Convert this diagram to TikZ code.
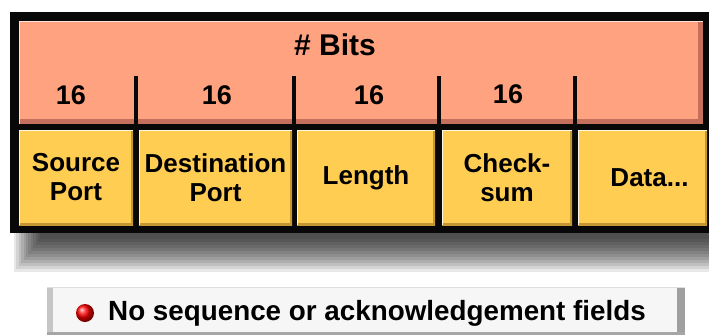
\documentclass[tikz,border=0pt]{standalone}
\usepackage{fontspec}
\setmainfont{Liberation Sans}
\usetikzlibrary{shadings}
\definecolor{hdrfill}{RGB}{255,162,128}
\definecolor{hdrshade}{RGB}{196,112,92}
\definecolor{fieldfill}{RGB}{255,205,82}
\definecolor{fieldshade}{RGB}{196,150,52}
\definecolor{framecol}{RGB}{8,8,8}
\definecolor{notefill}{RGB}{246,246,246}
\tikzset{
  x=1pt, y=-1pt,
  lbl/.style={font=\bfseries\fontsize{26}{29}\selectfont, text=black, align=center, inner sep=0pt},
  numlbl/.style={lbl, font=\bfseries\fontsize{27}{30}\selectfont},
  titlelbl/.style={lbl, font=\bfseries\fontsize{30}{33}\selectfont},
  fieldbox/.style={fill=fieldfill, minimum height=95pt, inner sep=0pt, outer sep=0pt,
    lbl, anchor=center,
    path picture={
      \draw[fieldshade, line width=4pt]
        (path picture bounding box.south west) -- (path picture bounding box.south east)
        -- (path picture bounding box.north east);
      \draw[white!85!fieldfill, line width=2pt]
        (path picture bounding box.south west) -- (path picture bounding box.north west)
        -- (path picture bounding box.north east);
    }},
  divider/.style={framecol, line width=4.5pt},
}
\begin{document}
\begin{tikzpicture}
\useasboundingbox (0,0) rectangle (709,335);
\fill[white] (0,0) rectangle (709,335);

% soft drop shadow under the frame
\foreach \i in {0,...,11}
  \fill[black, opacity=0.09] (14+\i*2.4,233) rectangle (709,272-\i*3);

% black frame
\fill[framecol] (10,12) rectangle (712,233);

% header band with the bit counts
\node[fill=hdrfill, minimum width=684pt, minimum height=104pt, inner sep=0pt, outer sep=0pt,
  path picture={
    \fill[hdrshade] ([yshift=6pt]path picture bounding box.south west) rectangle (path picture bounding box.south east);
    \fill[hdrshade] ([xshift=-5pt]path picture bounding box.north east) rectangle (path picture bounding box.south east);
    \draw[white!70!hdrfill, line width=2pt] (path picture bounding box.south west) -- (path picture bounding box.north west) -- (path picture bounding box.north east);
  }] (hdr) at (361,73) {};
\node[titlelbl] (bits) at (335,45) {\# Bits};
\node[numlbl] (w1) at (71,95) {16};
\node[numlbl] (w2) at (217,95) {16};
\node[numlbl] (w3) at (369,95) {16};
\node[numlbl] (w4) at (508,94) {16};

% black band below the header and dividers between the counts
\fill[framecol] (19,124) rectangle (709,130);
\foreach \dx in {136,294,439,575}
  \draw[divider] (\dx,76) -- (\dx,127);

% header fields
\node[fieldbox, minimum width=114pt] (src)  at (76,177.5)   {Source\\Port};
\node[fieldbox, minimum width=153pt] (dst)  at (215.5,177.5) {Destination\\Port};
\node[fieldbox, minimum width=138pt] (len)  at (366,177.5)   {Length};
\node[fieldbox, minimum width=130pt] (chk)  at (507,177.5)   {Check-\\sum};
\node[fieldbox, minimum width=129pt, text width=129pt, align=center] (data) at (642.5,177.5) {\hspace*{14pt}Data...};

% note bar
\node[fill=notefill, minimum width=638pt, minimum height=48pt, inner sep=0pt, outer sep=0pt,
  path picture={
    \fill[gray!45] (path picture bounding box.north west) rectangle ([xshift=6pt]path picture bounding box.south west);
    \fill[gray!75] ([xshift=-8pt]path picture bounding box.north east) rectangle (path picture bounding box.south east);
    \fill[gray!70] ([yshift=3pt]path picture bounding box.south west) rectangle (path picture bounding box.south east);
    \draw[gray!25, line width=1.5pt] (path picture bounding box.north west) -- (path picture bounding box.north east);
  }] (note) at (366,311) {};
\node[circle, minimum size=18pt, inner sep=0pt, ball color=red] (dot) at (85,313) {};
\node[lbl, anchor=west, font=\bfseries\fontsize{27.8}{30}\selectfont] (notetext) at (108,313)
  {No sequence or acknowledgement fields};
\end{tikzpicture}
\end{document}
